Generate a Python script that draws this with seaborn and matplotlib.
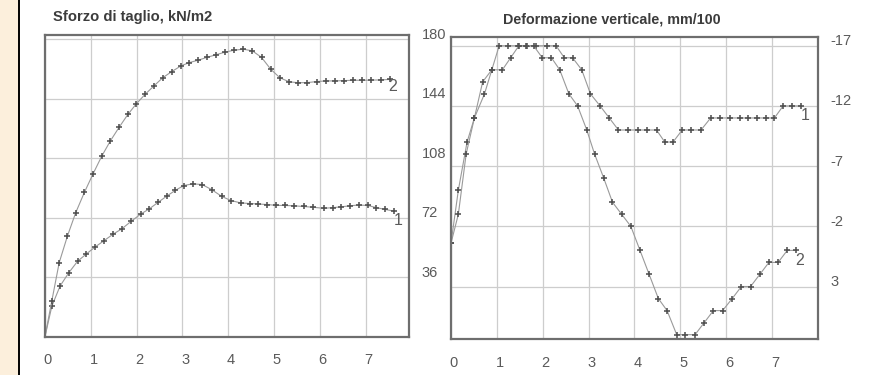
import numpy as np
import pandas as pd
import matplotlib
matplotlib.use("Agg")
import matplotlib.pyplot as plt
import matplotlib.transforms as mtransforms
from matplotlib.patches import Rectangle
from matplotlib.lines import Line2D
import seaborn as sns

# ---- shear stress (kN/m2) vs horizontal displacement ----
shear_x1 = [0, 0.15, 0.33, 0.52, 0.71, 0.90, 1.10, 1.29, 1.49, 1.68, 1.88, 2.09, 2.28,
            2.47, 2.66, 2.85, 3.03, 3.23, 3.43, 3.64, 3.86, 4.06, 4.27, 4.47, 4.65, 4.84,
            5.04, 5.24, 5.44, 5.65, 5.86, 6.09, 6.28, 6.47, 6.66, 6.85, 7.05, 7.24, 7.43, 7.62]
shear_y1 = [0, 18.4, 30.6, 38.6, 45.5, 49.9, 54.3, 58.0, 62.0, 65.2, 69.7, 74.1, 77.3,
            81.2, 85.0, 88.5, 91.4, 92.4, 92.0, 88.9, 84.8, 82.3, 80.9, 80.5, 80.2, 79.9,
            79.4, 79.3, 79.1, 78.7, 78.2, 77.6, 78.0, 78.5, 79.1, 79.6, 79.3, 78.0, 76.9, 75.9]

shear_x2 = [0, 0.15, 0.31, 0.49, 0.67, 0.86, 1.05, 1.24, 1.43, 1.62, 1.81, 1.99, 2.19,
            2.38, 2.57, 2.77, 2.97, 3.15, 3.34, 3.53, 3.73, 3.93, 4.13, 4.33, 4.53, 4.73,
            4.93, 5.13, 5.33, 5.53, 5.73, 5.93, 6.13, 6.33, 6.53, 6.73, 6.93, 7.13, 7.33, 7.53]
shear_y2 = [0, 21.7, 44.7, 60.8, 74.9, 87.2, 98.5, 109.2, 118.5, 126.7, 134.4, 140.7, 146.7,
            151.7, 156.6, 160.4, 163.8, 165.8, 167.2, 168.9, 170.5, 172.1, 173.3, 173.9, 172.9, 168.9,
            161.8, 156.6, 154.2, 153.6, 153.7, 154.3, 154.7, 154.7, 154.9, 155.1, 155.1, 155.2, 155.3, 155.6]

# ---- vertical deformation (mm/100) vs horizontal displacement ----
vert_x1 = [0, 0.16, 0.35, 0.51, 0.69, 0.89, 1.05, 1.25, 1.45, 1.65, 1.85, 2.10, 2.29,
           2.47, 2.65, 2.85, 3.04, 3.25, 3.45, 3.65, 3.86, 4.08, 4.28, 4.48, 4.66, 4.84,
           5.04, 5.24, 5.45, 5.66, 5.87, 6.08, 6.29, 6.48, 6.68, 6.86, 7.05, 7.24, 7.43, 7.62]
vert_y1 = [-0.6, -5, -9, -11, -14, -15, -17, -17, -17, -17, -17, -17, -17,
           -16, -16, -15, -13, -12, -11, -10, -10, -10, -10, -10, -9, -9,
           -10, -10, -10, -11, -11, -11, -11, -11, -11, -11, -11, -12, -12, -12]

vert_x2 = [0, 0.16, 0.33, 0.51, 0.73, 0.89, 1.12, 1.30, 1.48, 1.64, 1.80, 1.99, 2.19,
           2.37, 2.57, 2.76, 2.96, 3.13, 3.33, 3.52, 3.72, 3.92, 4.12, 4.32, 4.52, 4.71,
           4.92, 5.11, 5.32, 5.52, 5.72, 5.92, 6.13, 6.33, 6.53, 6.73, 6.93, 7.13, 7.33, 7.53]
vert_y2 = [-0.6, -3, -8, -11, -13, -15, -15, -16, -17, -17, -17, -16, -16,
           -15, -13, -12, -10, -8, -6, -4, -3, -2, 0, 2, 4, 5,
           7, 7, 7, 6, 5, 5, 4, 3, 3, 2, 1, 1, 0, 0]

x_ticks = [0, 1, 2, 3, 4, 5, 6, 7]
shear_ticks = [36, 72, 108, 144, 180]
vert_ticks = [-17, -12, -7, -2, 3]

title_left = "Sforzo di taglio, kN/m2"
title_right = "Deformazione verticale, mm/100"

sns.set_theme(style="white")
plt.rcParams["font.family"] = ["Liberation Sans", "DejaVu Sans"]
plt.rcParams["axes.unicode_minus"] = False

W, H = 895, 375
fig = plt.figure(figsize=(W / 100, H / 100), dpi=100)
fig.patch.set_facecolor("white")


def box(l, t, r, b):
    return [l / W, 1 - b / H, (r - l) / W, (b - t) / H]


ax1 = fig.add_axes(box(45, 35, 409, 336.5))
ax2 = fig.add_axes(box(451, 36.7, 818, 339))

line_kw = dict(color="#9a9a9a", linewidth=0.8, marker="+", markersize=4.5,
               markeredgecolor="#505050", markeredgewidth=1.15, estimator=None,
               sort=False, legend=False)

shear1 = pd.DataFrame({"x": shear_x1, "y": shear_y1})
shear2 = pd.DataFrame({"x": shear_x2, "y": shear_y2})
vert1 = pd.DataFrame({"x": vert_x1, "y": vert_y1})
vert2 = pd.DataFrame({"x": vert_x2, "y": vert_y2})

sns.lineplot(data=shear1, x="x", y="y", ax=ax1, **line_kw)
sns.lineplot(data=shear2, x="x", y="y", ax=ax1, **line_kw)
sns.lineplot(data=vert1, x="x", y="y", ax=ax2, **line_kw)
sns.lineplot(data=vert2, x="x", y="y", ax=ax2, **line_kw)

ax1.set_xlim(0, 7.95)
ax1.set_ylim(0, 182.5)
ax2.set_xlim(0, 8.0)
ax2.set_ylim(7.36, -17.75)

label_color = "#5a5a5a"
for ax, yt in ((ax1, shear_ticks), (ax2, vert_ticks)):
    ax.set_xlabel("")
    ax.set_ylabel("")
    ax.set_xticks(x_ticks)
    ax.set_yticks(yt)
    ax.yaxis.tick_right()
    ax.tick_params(axis="both", length=0, labelsize=10.5, labelcolor=label_color)
    ax.tick_params(axis="x", pad=12)
    ax.tick_params(axis="y", pad=9)
    ax.grid(True, color="#cdcdcd", linewidth=0.9)
    ax.set_axisbelow(True)
    for sp in ax.spines.values():
        sp.set_visible(True)
        sp.set_color("#6e6e6e")
        sp.set_linewidth(1.6)
    for lbl in ax.get_yticklabels():
        lbl.set_horizontalalignment("left")
        lbl.set_transform(lbl.get_transform() +
                          mtransforms.ScaledTranslation(0, 6 / 100, fig.dpi_scale_trans))
    for lbl in ax.get_xticklabels():
        lbl.set_transform(lbl.get_transform() +
                          mtransforms.ScaledTranslation(3 / 100, 0, fig.dpi_scale_trans))

# curve numbers
ax1.text(7.6, 151.5, "2", fontsize=11.5, color=label_color, ha="center", va="center")
ax1.text(7.71, 70.5, "1", fontsize=11.5, color=label_color, ha="center", va="center")
ax2.text(7.71, -11.2, "1", fontsize=11.5, color=label_color, ha="center", va="center")
ax2.text(7.6, 0.8, "2", fontsize=11.5, color=label_color, ha="center", va="center")

# panel titles
fig.text(53 / W, 1 - 16.7 / H, title_left, fontsize=10.6, fontweight="bold",
         color="#3c3c3c", ha="left", va="center")
fig.text(502.7 / W, 1 - 19.3 / H, title_right, fontsize=10.3, fontweight="bold",
         color="#3c3c3c", ha="left", va="center")

# page margin strip on the left
fig.patches.append(Rectangle((0, 0), 19 / W, 1, transform=fig.transFigure,
                             facecolor="#fcefdc", edgecolor="none", zorder=0))
fig.lines.append(Line2D([19 / W, 19 / W], [0, 1], transform=fig.transFigure,
                        color="black", linewidth=1.4))

fig.savefig("out.png", dpi=100)
